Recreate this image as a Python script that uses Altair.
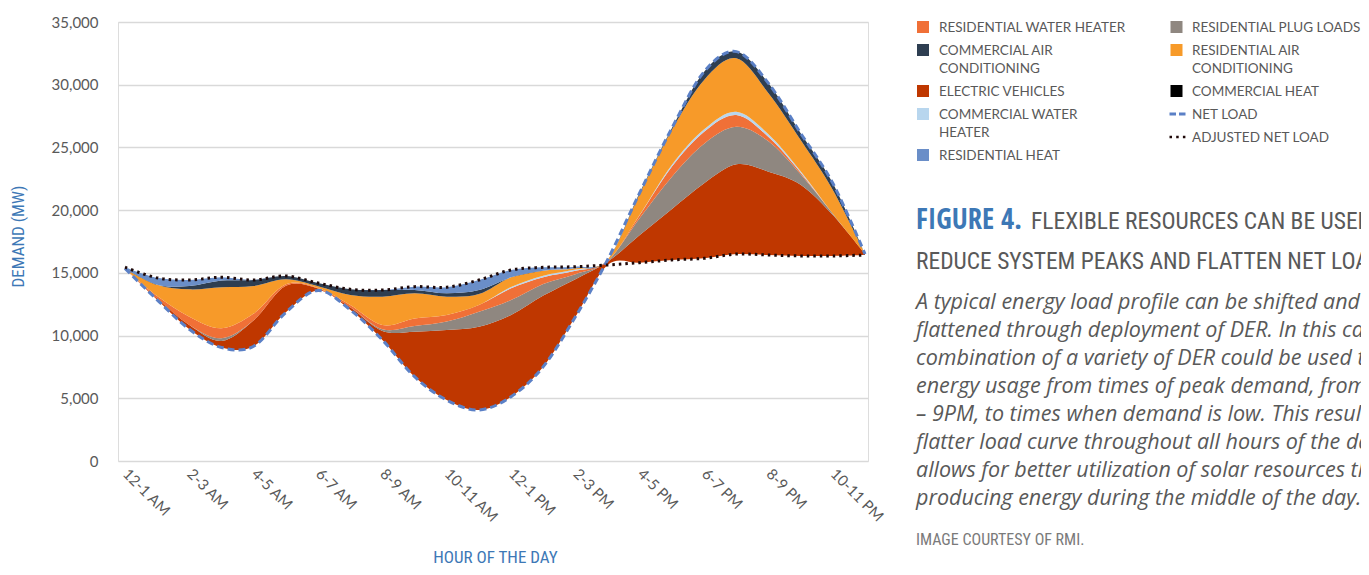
import altair as alt
import pandas as pd

# ---------------- data ----------------
hours = ["12-1 AM", "1-2 AM", "2-3 AM", "3-4 AM", "4-5 AM", "5-6 AM", "6-7 AM", "7-8 AM",
         "8-9 AM", "9-10 AM", "10-11 AM", "11-12 PM", "12-1 PM", "1-2 PM", "2-3 PM", "3-4 PM",
         "4-5 PM", "5-6 PM", "6-7 PM", "7-8 PM", "8-9 PM", "9-10 PM", "10-11 PM", "11-12 AM"]

net_load = [15350, 12850, 10500, 9050, 9150, 11850, 13600, 12050, 9650, 6720, 4860, 4070,
            5130, 7520, 11500, 16050, 21400, 26550, 31040, 32640, 30110, 26130, 22140, 16500]
adjusted_net_load = [15450, 14600, 14430, 14650, 14430, 14750, 14190, 13690, 13630, 13900, 13850, 14430,
                     15230, 15440, 15490, 15630, 15810, 16030, 16160, 16500, 16420, 16350, 16350, 16420]

electric_vehicles = [0, 100, 340, 525, 2070, 2115, 150, 200, 715, 3590, 5590, 6630,
                     6505, 5665, 2995, 250, 2210, 4060, 5980, 7150, 6650, 5680, 3260, 80]
residential_plug_loads = [0, 0, 0, 210, 0, 0, 0, 0, 130, 450, 665, 1200,
                          1200, 930, 400, 60, 1350, 2580, 3160, 3000, 2420, 830, 100, 0]
residential_water_heater = [0, 200, 665, 800, 530, 120, 40, 190, 345, 610, 530, 530,
                            930, 530, 265, 30, 240, 800, 960, 940, 340, 130, 0, 0]
commercial_water_heater = [0, 0, 0, 0, 0, 0, 0, 0, 0, 0, 0, 0,
                           100, 130, 100, 0, 30, 150, 190, 260, 220, 110, 0, 0]
residential_air_conditioning = [0, 900, 2180, 3270, 2200, 400, 150, 800, 2260, 2000, 1460, 880,
                                780, 400, 100, 80, 1660, 2780, 3930, 4250, 3270, 2490, 1900, 0]
commercial_air_conditioning = [0, 0, 265, 530, 480, 265, 250, 450, 530, 265, 265, 320,
                               0, 0, 0, 0, 100, 150, 660, 540, 790, 540, 530, 0]
commercial_heat = [0] * 24
residential_heat = [100, 550, 480, 265, 0, 0, 0, 0, 0, 265, 480, 800,
                    585, 265, 130, 0, 0, 0, 0, 0, 0, 0, 0, 0]

# stack order bottom -> top
series = [
    ("ELECTRIC VEHICLES", electric_vehicles, "#bf3700"),
    ("RESIDENTIAL PLUG LOADS", residential_plug_loads, "#8f8780"),
    ("RESIDENTIAL WATER HEATER", residential_water_heater, "#f07037"),
    ("COMMERCIAL WATER HEATER", commercial_water_heater, "#b8d6ee"),
    ("RESIDENTIAL AIR CONDITIONING", residential_air_conditioning, "#f79a29"),
    ("COMMERCIAL AIR CONDITIONING", commercial_air_conditioning, "#2e3e51"),
    ("COMMERCIAL HEAT", commercial_heat, "#000000"),
    ("RESIDENTIAL HEAT", residential_heat, "#6a8ec8"),
]
NET_COLOR = "#5b80c6"
ADJ_COLOR = "#1e0808"

rows = []
for i, h in enumerate(hours):
    rows.append({"hour": h, "series": "base", "value": min(net_load[i], adjusted_net_load[i]), "order": 0})
    for k, (name, vals, _) in enumerate(series):
        rows.append({"hour": h, "series": name, "value": vals[i], "order": k + 1})
df = pd.DataFrame(rows)
df_net = pd.DataFrame({"hour": hours, "value": net_load})
df_adj = pd.DataFrame({"hour": hours, "value": adjusted_net_load})

# ---------------- layout constants ----------------
OX, OY = 118, 22          # plot origin on page
W, H = 750, 439
GRAY = "#595959"
BLUE = "#3d78b6"
COND = "Roboto Condensed"
COND_BOLD = "Open Sans Condensed"

x_enc = alt.X("hour:O", sort=hours,
              scale=alt.Scale(type="point", padding=0.155, align=0.7),
              axis=alt.Axis(values=hours[::2], labelAngle=45, labelAlign="left", labelBaseline="middle",
                            labelPadding=10, labelFont="Lato", labelFontSize=15, labelColor=GRAY,
                            ticks=False, tickSize=0, domain=False, grid=False,
                            title="HOUR OF THE DAY", titleFont=COND, titleFontSize=17,
                            titleFontWeight="normal", titleColor=BLUE,
                            titleX=495 - OX, titleY=562 - OY - H, titleAlign="center",
                            titleBaseline="alphabetic", labelOverlap=False))
y_axis = alt.Axis(values=list(range(0, 35001, 5000)), format=",.0f", labelFont="Lato", labelFontSize=15,
                  labelColor=GRAY, labelPadding=20, ticks=False, tickSize=0, domain=False,
                  grid=True, gridColor="#d9d9d9", gridWidth=1.5,
                  title="DEMAND (MW)", titleFont=COND, titleFontSize=17, titleFontWeight="normal",
                  titleColor=BLUE, titleX=18 - OX, titleY=236 - OY, titleAngle=-90,
                  titleAlign="center", titleBaseline="middle")
y_scale = alt.Scale(domain=[0, 35000], nice=False)

areas = alt.Chart(df).mark_area(interpolate="cardinal").encode(
    x=x_enc,
    y=alt.Y("value:Q", stack="zero", scale=y_scale, axis=y_axis),
    color=alt.Color("series:N",
                    scale=alt.Scale(domain=["base"] + [s[0] for s in series],
                                    range=["rgba(0,0,0,0)"] + [s[2] for s in series]),
                    legend=None),
    order=alt.Order("order:Q", sort="ascending"),
)
net_line = alt.Chart(df_net).mark_line(interpolate="cardinal", color=NET_COLOR, strokeWidth=3,
                                       strokeDash=[7, 4]).encode(
    x=alt.X("hour:O", sort=hours), y=alt.Y("value:Q", scale=y_scale))
adj_line = alt.Chart(df_adj).mark_line(interpolate="cardinal", color=ADJ_COLOR, strokeWidth=3,
                                       strokeDash=[2.5, 4]).encode(
    x=alt.X("hour:O", sort=hours), y=alt.Y("value:Q", scale=y_scale))
main = alt.layer(areas, net_line, adj_line)

# ---------------- legend (manual, two columns) ----------------
color_of = {s[0]: s[2] for s in series}
legend_cols = [
    [("RESIDENTIAL WATER HEATER", "RESIDENTIAL WATER HEATER", "box"),
     ("COMMERCIAL AIR CONDITIONING", "COMMERCIAL AIR\nCONDITIONING", "box"),
     ("ELECTRIC VEHICLES", "ELECTRIC VEHICLES", "box"),
     ("COMMERCIAL WATER HEATER", "COMMERCIAL WATER\nHEATER", "box"),
     ("RESIDENTIAL HEAT", "RESIDENTIAL HEAT", "box")],
    [("RESIDENTIAL PLUG LOADS", "RESIDENTIAL PLUG LOADS", "box"),
     ("RESIDENTIAL AIR CONDITIONING", "RESIDENTIAL AIR\nCONDITIONING", "box"),
     ("COMMERCIAL HEAT", "COMMERCIAL HEAT", "box"),
     ("NET LOAD", "NET LOAD", "dash"),
     ("ADJUSTED NET LOAD", "ADJUSTED NET LOAD", "dot")],
]
sym_x = [923, 1176.5]
txt_x = [939, 1192]
leg_rows = []
for c, items in enumerate(legend_cols):
    yc = 27
    for key, label, kind in items:
        nlines = label.count("\n") + 1
        leg_rows.append({"key": key, "label": label, "kind": kind,
                         "sx": sym_x[c] - OX, "tx": txt_x[c] - OX, "yc": yc - OY,
                         "x1": sym_x[c] - 7 - OX, "x2": sym_x[c] + 9 - OX,
                         "color": color_of.get(key, NET_COLOR if kind == "dash" else ADJ_COLOR)})
        yc += 18 * (nlines - 1) + 23
leg = pd.DataFrame(leg_rows)
leg["ty"] = leg["yc"] + 5

px = lambda f: alt.X(f, scale=None, axis=None)
py = lambda f: alt.Y(f, scale=None, axis=None)

leg_boxes = alt.Chart(leg[leg.kind == "box"]).mark_square(size=144, opacity=1).encode(
    x=px("sx:Q"), y=py("yc:Q"), color=alt.Color("color:N", scale=None))
leg_dash = alt.Chart(leg[leg.kind == "dash"]).mark_rule(color=NET_COLOR, strokeWidth=3,
                                                          strokeDash=[6.5, 3]).encode(
    x=px("x1:Q"), x2="x2:Q", y=py("yc:Q"))
leg_dot = alt.Chart(leg[leg.kind == "dot"]).mark_rule(color=ADJ_COLOR, strokeWidth=2.5,
                                                        strokeDash=[2.5, 4.2]).encode(
    x=px("x1:Q"), x2="x2:Q", y=py("yc:Q"))
leg_text = alt.Chart(leg).mark_text(align="left", baseline="alphabetic", font="Lato", fontSize=13.5,
                                    color=GRAY, lineBreak="\n", lineHeight=18).encode(
    x=px("tx:Q"), y=py("ty:Q"), text="label:N")

# ---------------- title, caption, credit ----------------
fig_label = "FIGURE 4."
title_rest = "FLEXIBLE RESOURCES CAN BE USED TO"
title_line2 = "REDUCE SYSTEM PEAKS AND FLATTEN NET LOAD"
caption = ("A typical energy load profile can be shifted and\n"
           "flattened through deployment of DER. In this case, a\n"
           "combination of a variety of DER could be used to shift\n"
           "energy usage from times of peak demand, from 4PM\n"
           "\u2013 9PM, to times when demand is low. This results in a\n"
           "flatter load curve throughout all hours of the day and\n"
           "allows for better utilization of solar resources that are\n"
           "producing energy during the middle of the day.")
credit = "IMAGE COURTESY OF RMI."


def txt(t, x, y, **kw):
    return alt.Chart(pd.DataFrame({"t": [t], "x": [x - OX], "y": [y - OY]})).mark_text(
        align="left", baseline="alphabetic", **kw).encode(x=px("x:Q"), y=py("y:Q"), text="t:N")


t1 = txt(fig_label, 916, 229, font=COND_BOLD, fontSize=28.5, fontWeight="bold", color=BLUE)
t2 = txt(title_rest, 1031, 229, font=COND, fontSize=23.5, color=GRAY)
t3 = txt(title_line2, 916, 269, font=COND, fontSize=23.5, color=GRAY)
t4 = txt(caption, 916, 309, font="Open Sans", fontSize=21.5, fontStyle="italic", color=GRAY,
         lineBreak="\n", lineHeight=28)
t5 = txt(credit, 916, 545, font=COND, fontSize=16, color="#7a7a7a")

overlay = alt.layer(leg_boxes, leg_dash, leg_dot, leg_text, t1, t2, t3, t4, t5)

chart = alt.layer(main, overlay).resolve_scale(x="independent", y="independent", color="independent").properties(
    width=W, height=H,
    autosize=alt.AutoSizeParams(type="none"),
    padding={"left": OX - 8, "top": OY - 8, "right": 1353 - (OX - 8) - W, "bottom": 559 - (OY - 8) - H},
).configure_view(stroke=None).configure(background="white")

chart.save("out.html", embed_options={"renderer": "svg", "actions": False})
